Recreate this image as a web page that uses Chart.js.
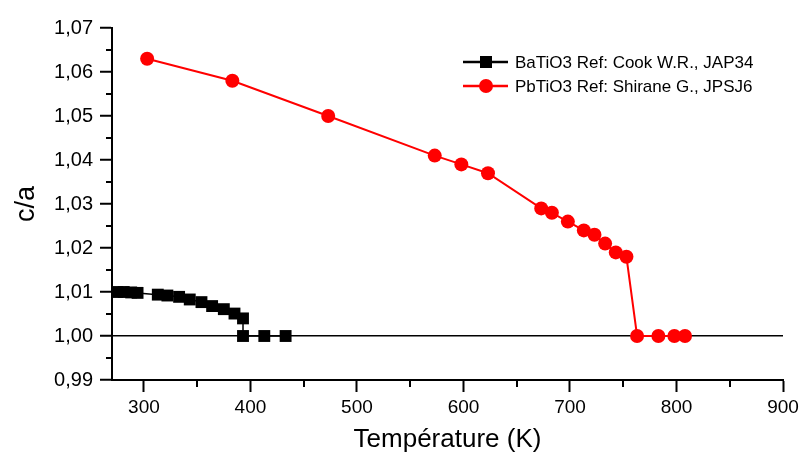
<!DOCTYPE html>
<html lang="fr">
<head>
    <meta charset="UTF-8">
    <title>c/a vs Température</title>
    <script src="https://cdn.jsdelivr.net/npm/chart.js"></script>
    <style>
        body {
            margin: 0;
            background: #fff;
        }
        #wrap {
            width: 803px;
            height: 456px;
        }
    </style>
</head>
<body>
<div id="wrap"><canvas id="caChart" width="803" height="456"></canvas></div>

<script>
    // BaTiO3 (Cook W.R., JAP34)
    const baTemp = [275, 281, 288, 294, 313, 322, 333, 343, 354, 364, 375, 385, 393, 393, 413, 433];
    const baCA = [1.0100, 1.0100, 1.0099, 1.0098, 1.0094, 1.0092, 1.0089, 1.0083, 1.0077, 1.0068, 1.0061, 1.0051, 1.0040, 1.0000, 1.0000, 1.0000];

    // PbTiO3 (Shirane G., JPSJ6)
    const pbTemp = [303, 383, 473, 573, 598, 623, 673, 683, 698, 713, 723, 733, 743, 753, 763, 783, 798, 808];
    const pbCA = [1.063, 1.058, 1.050, 1.041, 1.039, 1.037, 1.029, 1.028, 1.026, 1.024, 1.023, 1.021, 1.019, 1.018, 1.000, 1.000, 1.000, 1.000];

    const seriesNames = ['BaTiO3 Ref: Cook W.R., JAP34', 'PbTiO3 Ref: Shirane G., JPSJ6'];

    const FONT = 'Arial, "Liberation Sans", sans-serif';

    function toPoints(xs, ys) {
        return xs.map((x, i) => ({ x: x, y: ys[i] }));
    }

    function isMajorY(v) {
        return Math.abs(Math.round(v * 100) - v * 100) < 1e-6;
    }
    function isMajorX(v) {
        return Math.abs(v % 100) < 1e-6;
    }

    // short minor ticks + legend with line and marker
    const extras = {
        id: 'extras',
        afterDraw(chart) {
            const ctx = chart.ctx;
            const xs = chart.scales.x, ys = chart.scales.y;
            const area = chart.chartArea;
            ctx.save();
            ctx.strokeStyle = '#000';
            ctx.lineWidth = 2;
            xs.ticks.forEach(t => {
                if (!isMajorX(t.value)) {
                    const px = Math.round(xs.getPixelForValue(t.value));
                    ctx.beginPath();
                    ctx.moveTo(px, area.bottom);
                    ctx.lineTo(px, area.bottom + 7);
                    ctx.stroke();
                }
            });
            ys.ticks.forEach(t => {
                if (!isMajorY(t.value)) {
                    const py = Math.round(ys.getPixelForValue(t.value));
                    ctx.beginPath();
                    ctx.moveTo(area.left - 6, py);
                    ctx.lineTo(area.left, py);
                    ctx.stroke();
                }
            });

            // legend
            const rows = [62, 86];
            chart.data.datasets.forEach((ds, i) => {
                const y = rows[i];
                ctx.strokeStyle = ds.borderColor;
                ctx.lineWidth = 2.5;
                ctx.beginPath();
                ctx.moveTo(463, y);
                ctx.lineTo(508, y);
                ctx.stroke();
                ctx.fillStyle = ds.pointBackgroundColor;
                if (ds.pointStyle === 'rect') {
                    ctx.fillRect(480, y - 6, 12, 12);
                } else {
                    ctx.beginPath();
                    ctx.arc(486, y, 7, 0, Math.PI * 2);
                    ctx.fill();
                }
                ctx.fillStyle = '#000';
                ctx.font = '17px ' + FONT;
                ctx.textBaseline = 'middle';
                ctx.textAlign = 'left';
                ctx.fillText(ds.label, 515, y + 1);
            });
            ctx.restore();
        }
    };

    new Chart(document.getElementById('caChart'), {
        type: 'scatter',
        data: {
            datasets: [{
                label: seriesNames[0],
                data: toPoints(baTemp, baCA),
                showLine: true,
                borderColor: '#000',
                borderWidth: 1.5,
                pointStyle: 'rect',
                pointRadius: 8.4,
                pointBackgroundColor: '#000',
                pointBorderWidth: 0,
                clip: false
            }, {
                label: seriesNames[1],
                data: toPoints(pbTemp, pbCA),
                showLine: true,
                borderColor: '#ff0000',
                borderWidth: 2,
                pointStyle: 'circle',
                pointRadius: 7,
                pointBackgroundColor: '#ff0000',
                pointBorderWidth: 0,
                clip: false
            }]
        },
        options: {
            responsive: false,
            animation: false,
            layout: { padding: { top: 28, right: 20, left: 0, bottom: 0 } },
            plugins: {
                legend: { display: false },
                tooltip: { enabled: false }
            },
            scales: {
                x: {
                    type: 'linear',
                    min: 270,
                    max: 900,
                    afterFit(scale) { scale.height = 76; },
                    border: { color: '#000', width: 2 },
                    grid: {
                        drawOnChartArea: false,
                        tickLength: 12,
                        tickWidth: 2,
                        tickColor: c => isMajorX(c.tick.value) ? '#000' : 'rgba(0,0,0,0)'
                    },
                    ticks: {
                        stepSize: 50,
                        includeBounds: false,
                        autoSkip: false,
                        maxRotation: 0,
                        padding: 4,
                        color: '#000',
                        font: { family: FONT, size: 19 },
                        callback: v => isMajorX(v) ? String(v) : ''
                    },
                    title: {
                        display: true,
                        text: 'Température (K)',
                        color: '#000',
                        font: { family: FONT, size: 26 },
                        padding: { top: 0, bottom: 1 }
                    }
                },
                y: {
                    type: 'linear',
                    min: 0.99,
                    max: 1.07,
                    afterFit(scale) { scale.width = 112; },
                    border: { color: '#000', width: 2 },
                    grid: {
                        drawOnChartArea: true,
                        color: c => Math.abs(c.tick.value - 1) < 1e-6 ? '#000' : 'rgba(0,0,0,0)',
                        lineWidth: 1.5,
                        tickLength: 12,
                        tickWidth: 2,
                        tickColor: c => isMajorY(c.tick.value) ? '#000' : 'rgba(0,0,0,0)'
                    },
                    ticks: {
                        stepSize: 0.005,
                        autoSkip: false,
                        padding: 7,
                        color: '#000',
                        font: { family: FONT, size: 20 },
                        callback: v => isMajorY(v) ? v.toFixed(2).replace('.', ',') : ''
                    },
                    title: {
                        display: true,
                        text: 'c/a',
                        color: '#000',
                        font: { family: FONT, size: 27 },
                        padding: { top: 10, bottom: 0 }
                    }
                }
            }
        },
        plugins: [extras]
    });
</script>
</body>
</html>
